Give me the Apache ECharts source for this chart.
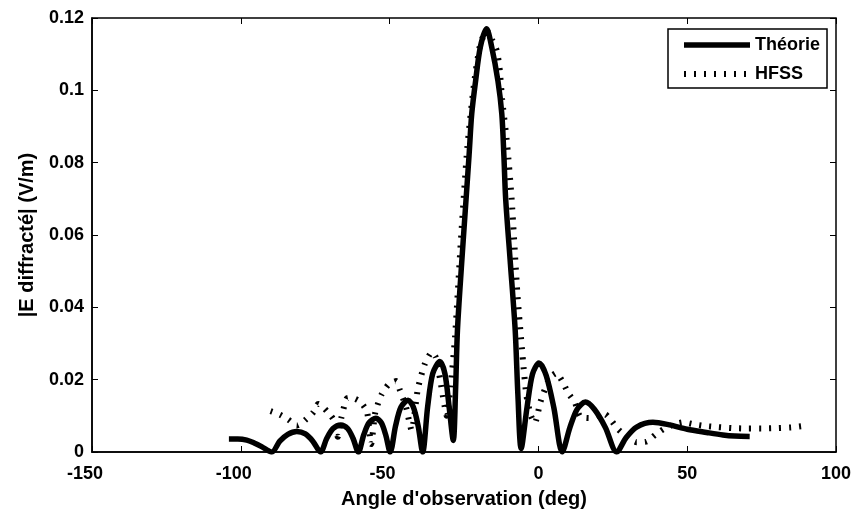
<!DOCTYPE html>
<html>
<head>
<meta charset="utf-8">
<script src="https://cdn.jsdelivr.net/npm/echarts@6/dist/echarts.min.js"></script>
<style>
html,body{margin:0;padding:0;background:#fff;}
#c{width:863px;height:514px;}
</style>
</head>
<body>
<div id="c"></div>
<script>
// Theory curve (angle deg, |E| V/m)
var theoryX = [-104, -101, -98, -95.5, -93, -89.6,
  -86.9, -84.2, -81.2, -78.3, -75.8, -73.2,
  -71.1, -69.0, -66.4, -64.1, -62.3, -60.5,
  -58.7, -56.9, -54.6, -52.8, -51.3, -49.8,
  -48.0, -46.2, -43.8, -42.0, -40.4, -38.9,
  -37.2, -35.5, -33.1, -31.4, -30.0, -28.6,
  -27.8, -27.2, -25.8, -24.3, -23.3, -22.4, -21.1, -19.5, -17.4, -15.7, -13.6, -12.3, -11.6, -11.0, -9.4, -7.8, -6.9, -5.8,
  -3.8, -2.0, 0.2, 2.6, 5.2, 8.0,
  10.6, 13.0, 15.8, 18.8, 22.5, 26.3,
  29.5, 33.0, 38.5, 44.0, 50.0, 56.5, 62.0, 66.0, 71.0];
var theoryY = [0.0036, 0.0036, 0.0033, 0.0025, 0.0015, 0.0000,
  0.0030, 0.0049, 0.0057, 0.0050, 0.0030, 0.0000,
  0.0038, 0.0065, 0.0075, 0.0065, 0.0038, 0.0000,
  0.0047, 0.0081, 0.0093, 0.0081, 0.0047, 0.0000,
  0.0072, 0.0124, 0.0143, 0.0124, 0.0072, 0.0000,
  0.0126, 0.0217, 0.0250, 0.0216, 0.0125, 0.0032,
  0.0180, 0.0337, 0.0520, 0.0700, 0.0820, 0.0935, 0.1026, 0.1120, 0.1170, 0.1120, 0.1026, 0.0935, 0.0820, 0.0700, 0.0520, 0.0337, 0.0160, 0.0010,
  0.0125, 0.0215, 0.0246, 0.0212, 0.0122, 0.0000,
  0.0068, 0.0118, 0.0138, 0.0118, 0.0068, 0.0000,
  0.0040, 0.0069, 0.0082, 0.0075, 0.0063, 0.0054, 0.0047, 0.0044, 0.0043];

// HFSS simulation (angle deg, |E| V/m)
var hfssX = [-90.0, -86.8, -84.0, -81.2, -79.8, -78.4, -75.6, -74.0, -72.5, -71.1, -68.9, -67.4, -66.2, -64.4, -62.7, -60.0, -57.6, -56.2, -54.8, -52.7, -50.4, -47.8, -46.5, -44.5, -42.6, -40.5, -38.1, -35.8, -34.5, -33.0, -31.8, -30.8,
  -29.5, -28.0, -26.0, -23.9, -21.6, -19.6, -17.4, -15.6, -14.0, -13.1, -12.2, -10.5, -9.0, -7.0, -5.1, -4.0, -2.5, -1.2,
  0.6, 1.7, 3.8, 6.0, 8.4, 10.0, 12.3, 14.0, 17.0, 20.0, 22.4, 24.6, 26.8, 30.0, 33.0, 36.4, 39.2, 42.0, 45.5, 48.7, 52.0, 56.0, 60.0, 65.0, 70.0, 75.0, 80.0, 85.0, 89.0];
var hfssY = [0.0113, 0.0103, 0.0089, 0.0073, 0.0078, 0.0088, 0.0110, 0.0133, 0.0125, 0.0113, 0.0090, 0.0042, 0.0095, 0.0148, 0.0150, 0.0140, 0.0112, 0.0022, 0.0110, 0.0159, 0.0186, 0.0196, 0.0170, 0.0125, 0.0060, 0.0175, 0.0245, 0.0276, 0.0262, 0.0200, 0.0140, 0.0100,
  0.0180, 0.0320, 0.0590, 0.0840, 0.1020, 0.1125, 0.1165, 0.1140, 0.1110, 0.1065, 0.0976, 0.0850, 0.0700, 0.0430, 0.0245, 0.0155, 0.0100, 0.0080,
  0.0136, 0.0163, 0.0205, 0.0218, 0.0190, 0.0163, 0.0136, 0.0098, 0.0094, 0.0101, 0.0104, 0.0086, 0.0063, 0.0040, 0.0027, 0.0029, 0.0047, 0.0063, 0.0076, 0.0082, 0.0077, 0.0072, 0.0069, 0.0066, 0.0065, 0.0065, 0.0066, 0.0068, 0.0072];

var seriesNames = ['Théorie', 'HFSS'];
var xTitle = "Angle d'observation (deg)";
var yTitle = '|E diffracté| (V/m)';

function pairs(xs, ys) { return xs.map(function (x, i) { return [x, ys[i]]; }); }

var FONT = 'Liberation Sans, Arial, sans-serif';
var FS = 18;
var chart = echarts.init(document.getElementById('c'), null, {renderer: 'canvas'});
chart.setOption({
  animation: false,
  backgroundColor: '#fff',
  grid: {left: 92, right: 27, top: 18, bottom: 58, show: true, borderColor: '#000', borderWidth: 1.5, backgroundColor: 'transparent'},
  legend: {
    left: 668, top: 29, orient: 'vertical',
    padding: [7, 7, 5, 13],
    itemWidth: 66, itemHeight: 14, itemGap: 11,
    borderColor: '#000', borderWidth: 1.5, backgroundColor: '#fff',
    lineStyle: {width: 'inherit'},
    itemStyle: {color: 'rgba(0,0,0,0)', borderWidth: 0, opacity: 0},
    textStyle: {fontFamily: FONT, fontWeight: 'bold', fontSize: 18, color: '#000'},
    data: seriesNames
  },
  xAxis: [{
    type: 'value', min: -150, max: 100, interval: 50,
    name: xTitle, nameLocation: 'middle', nameGap: 37,
    nameTextStyle: {fontFamily: FONT, fontWeight: 'bold', fontSize: 20, color: '#000'},
    axisLine: {show: true, onZero: false, lineStyle: {color: '#000', width: 1.5}},
    axisTick: {show: true, inside: true, length: 6, lineStyle: {color: '#000', width: 1}},
    splitLine: {show: false},
    axisLabel: {
      margin: 13, color: '#000', fontFamily: FONT, fontWeight: 'bold', fontSize: FS,
      formatter: function (v) { return v < 0 ? '{n|' + v + '}' : String(v); },
      rich: {n: {fontFamily: FONT, fontWeight: 'bold', fontSize: FS, color: '#000', padding: [0, 14, 0, 0]}}
    }
  }, {
    type: 'value', min: -150, max: 100, interval: 50, position: 'top',
    axisLine: {show: false, onZero: false},
    axisTick: {show: true, inside: true, length: 6, lineStyle: {color: '#000', width: 1}},
    axisLabel: {show: false}, splitLine: {show: false}
  }],
  yAxis: [{
    type: 'value', min: 0, max: 0.12, interval: 0.02,
    name: yTitle, nameLocation: 'middle', nameGap: 55,
    nameTextStyle: {fontFamily: FONT, fontWeight: 'bold', fontSize: 20, color: '#000'},
    axisLine: {show: true, onZero: false, lineStyle: {color: '#000', width: 1.5}},
    axisTick: {show: true, inside: true, length: 6, lineStyle: {color: '#000', width: 1}},
    splitLine: {show: false},
    axisLabel: {margin: 8, color: '#000', fontFamily: FONT, fontWeight: 'bold', fontSize: FS}
  }, {
    type: 'value', min: 0, max: 0.12, interval: 0.02, position: 'right',
    axisLine: {show: false, onZero: false},
    axisTick: {show: true, inside: true, length: 6, lineStyle: {color: '#000', width: 1}},
    axisLabel: {show: false}, splitLine: {show: false}
  }],
  series: [{
    name: seriesNames[0], type: 'line', symbol: 'none', smooth: 0.3,
    data: pairs(theoryX, theoryY),
    lineStyle: {color: '#000', width: 5.5},
    itemStyle: {color: '#000'}
  }, {
    name: seriesNames[1], type: 'line', symbol: 'none', smooth: 0.2,
    data: pairs(hfssX, hfssY),
    lineStyle: {color: '#000', width: 6, type: [2, 8], cap: 'butt'},
    itemStyle: {color: '#000'}
  }]
});
</script>
</body>
</html>
